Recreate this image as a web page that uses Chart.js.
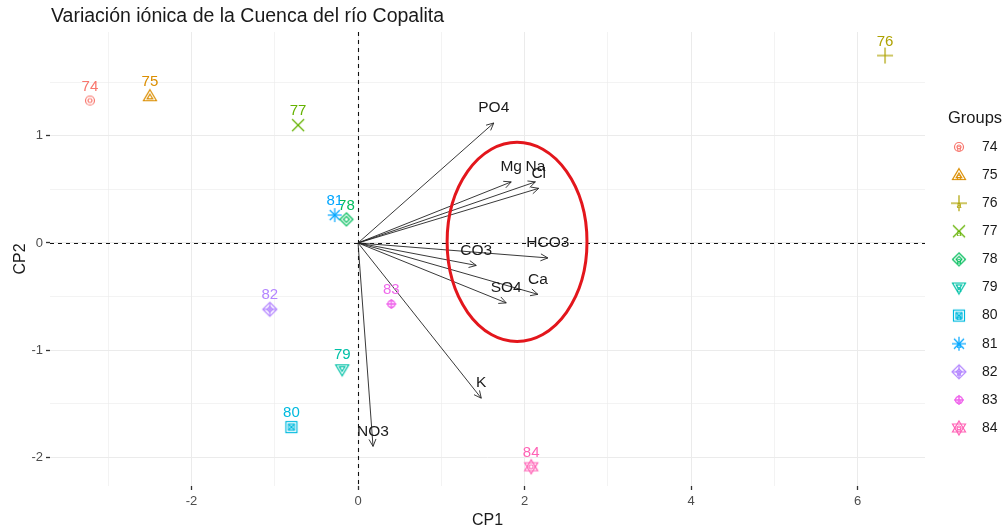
<!DOCTYPE html>
<html>
<head>
<meta charset="utf-8">
<script src="https://cdn.jsdelivr.net/npm/chart.js@4"></script>
<style>
  html, body { margin: 0; padding: 0; background: #fff; }
  #wrap { width: 1003px; height: 531px; }
</style>
</head>
<body>
<div id="wrap"><canvas id="biplot" width="1003" height="531"></canvas></div>
<script>
// sample scores (CP1, CP2) per group
var groups = ['74', '75', '76', '77', '78', '79', '80', '81', '82', '83', '84'];
var cp1 = [-3.22, -2.50, 6.33, -0.72, -0.14, -0.19, -0.80, -0.28, -1.06, 0.40, 2.08];
var cp2 = [1.33, 1.37, 1.75, 1.10, 0.22, -1.18, -1.72, 0.26, -0.62, -0.57, -2.09];
var groupColors = ['#F8766D', '#DB8E00', '#AEA200', '#64B200', '#00BD5C', '#00C1A7',
                   '#00BADE', '#00A6FF', '#B385FF', '#EF67EB', '#FF63B6'];
var groupShapes = ['circle', 'triangle', 'plus', 'cross', 'diamond', 'triDown',
                   'squareX', 'asterisk', 'diamondPlus', 'circlePlus', 'star'];

// variable loadings (arrows)
var variables = ['PO4', 'Mg', 'Na', 'Cl', 'HCO3', 'CO3', 'Ca', 'SO4', 'K', 'NO3'];
var loadX = [1.63, 1.84, 2.13, 2.17, 2.28, 1.42, 2.16, 1.78, 1.48, 0.18];
var loadY = [1.12, 0.57, 0.57, 0.51, -0.14, -0.21, -0.48, -0.56, -1.45, -1.90];

// highlighted group of ions (red ellipse), in data units
var ellipseCenter = [1.91, 0.01];
var ellipseRadius = [0.84, 0.93];

// axes
var xRange = [-3.70, 6.81];
var yRange = [-2.27, 1.97];
var xGrid = [-3, -2, -1, 0, 1, 2, 3, 4, 5, 6];
var xLabels = [-2, 0, 2, 4, 6];
var yGrid = [-2, -1.5, -1, -0.5, 0, 0.5, 1, 1.5];
var yLabels = [-2, -1, 0, 1];

var FONT = '"Liberation Sans", Arial, sans-serif';
Chart.defaults.font.family = FONT;

function makeMarker(shape, color) {
    var c = document.createElement('canvas');
    c.width = 20; c.height = 20;
    var g = c.getContext('2d');
    g.strokeStyle = color;
    g.lineWidth = 1.2;
    g.translate(10, 10);
    function poly(pts) {
        g.beginPath();
        g.moveTo(pts[0][0], pts[0][1]);
        for (var i = 1; i < pts.length; i++) g.lineTo(pts[i][0], pts[i][1]);
        g.closePath();
        g.stroke();
    }
    function line(a, b, cc, d) {
        g.beginPath(); g.moveTo(a, b); g.lineTo(cc, d); g.stroke();
    }
    function circ(r) {
        g.beginPath(); g.arc(0, 0, r, 0, Math.PI * 2); g.stroke();
    }
    switch (shape) {
        case 'circle':
            circ(4.5); circ(2); break;
        case 'triangle':
            poly([[0, -6.5], [6.5, 4.5], [-6.5, 4.5]]);
            poly([[0, -2], [2.8, 2.6], [-2.8, 2.6]]); break;
        case 'plus':
            line(-8, 0, 8, 0); line(0, -8, 0, 8); break;
        case 'cross':
            line(-6, -6, 6, 6); line(-6, 6, 6, -6); break;
        case 'diamond':
            poly([[0, -6.5], [6.5, 0], [0, 6.5], [-6.5, 0]]);
            poly([[0, -3], [3, 0], [0, 3], [-3, 0]]); break;
        case 'triDown':
            poly([[0, 6.5], [6.5, -4.5], [-6.5, -4.5]]);
            poly([[0, 2], [2.8, -2.6], [-2.8, -2.6]]); break;
        case 'squareX':
            g.strokeRect(-5.5, -5.5, 11, 11);
            g.strokeRect(-3, -3, 6, 6);
            line(-3, -3, 3, 3); line(-3, 3, 3, -3); break;
        case 'asterisk':
            line(-7, 0, 7, 0); line(0, -7, 0, 7);
            line(-5, -5, 5, 5); line(-5, 5, 5, -5); break;
        case 'diamondPlus':
            poly([[0, -7], [7, 0], [0, 7], [-7, 0]]);
            line(-7, 0, 7, 0); line(0, -7, 0, 7);
            poly([[0, -3], [3, 0], [0, 3], [-3, 0]]); break;
        case 'circlePlus':
            g.lineWidth = 1.5;
            circ(3.5);
            line(-5, 0, 5, 0); line(0, -5, 0, 5); break;
        case 'star':
            poly([[0, -7], [6.5, 4], [-6.5, 4]]);
            poly([[0, 7], [6.5, -4], [-6.5, -4]]);
            circ(2); break;
    }
    return c;
}

var markers = groups.map(function (g, i) { return makeMarker(groupShapes[i], groupColors[i]); });

var datasets = groups.map(function (g, i) {
    return {
        label: g,
        data: [{ x: cp1[i], y: cp2[i] }],
        pointStyle: markers[i],
        pointRadius: 7,
        backgroundColor: groupColors[i],
        borderColor: groupColors[i]
    };
});

var biplotPlugin = {
    id: 'biplot',
    beforeDatasetsDraw: function (chart) {
        var ctx = chart.ctx, a = chart.chartArea;
        var xs = chart.scales.x, ys = chart.scales.y;
        var x0 = xs.getPixelForValue(0), y0 = ys.getPixelForValue(0);
        ctx.save();
        // dashed reference lines
        ctx.strokeStyle = '#111';
        ctx.lineWidth = 1.1;
        ctx.setLineDash([4, 4]);
        ctx.beginPath();
        ctx.moveTo(Math.round(x0) + 0.5, a.top); ctx.lineTo(Math.round(x0) + 0.5, a.bottom);
        ctx.moveTo(a.left, Math.round(y0) + 0.5); ctx.lineTo(a.right, Math.round(y0) + 0.5);
        ctx.stroke();
        ctx.setLineDash([]);
        // loading arrows
        ctx.strokeStyle = '#222';
        ctx.lineWidth = 0.9;
        for (var i = 0; i < variables.length; i++) {
            var px = xs.getPixelForValue(loadX[i]), py = ys.getPixelForValue(loadY[i]);
            var ang = Math.atan2(py - y0, px - x0);
            ctx.beginPath();
            ctx.moveTo(x0, y0); ctx.lineTo(px, py);
            ctx.moveTo(px - 8 * Math.cos(ang - 0.45), py - 8 * Math.sin(ang - 0.45));
            ctx.lineTo(px, py);
            ctx.lineTo(px - 8 * Math.cos(ang + 0.45), py - 8 * Math.sin(ang + 0.45));
            ctx.stroke();
        }
        ctx.restore();
    },
    afterDatasetsDraw: function (chart) {
        var ctx = chart.ctx;
        var xs = chart.scales.x, ys = chart.scales.y;
        ctx.save();
        ctx.textAlign = 'center';
        ctx.textBaseline = 'middle';
        // variable labels
        ctx.font = '15.5px ' + FONT;
        ctx.fillStyle = '#1a1a1a';
        for (var i = 0; i < variables.length; i++) {
            ctx.fillText(variables[i], xs.getPixelForValue(loadX[i]), ys.getPixelForValue(loadY[i]) - 15);
        }
        // group labels
        ctx.font = '15px ' + FONT;
        for (var j = 0; j < groups.length; j++) {
            var el = chart.getDatasetMeta(j).data[0];
            ctx.fillStyle = groupColors[j];
            ctx.fillText(groups[j], el.x, el.y - 14);
        }
        // red ellipse
        var cx = xs.getPixelForValue(ellipseCenter[0]), cy = ys.getPixelForValue(ellipseCenter[1]);
        var rx = Math.abs(xs.getPixelForValue(ellipseCenter[0] + ellipseRadius[0]) - cx);
        var ry = Math.abs(ys.getPixelForValue(ellipseCenter[1] + ellipseRadius[1]) - cy);
        ctx.strokeStyle = '#E3161C';
        ctx.lineWidth = 3;
        ctx.beginPath();
        ctx.ellipse(cx, cy, rx, ry, 0, 0, Math.PI * 2);
        ctx.stroke();
        ctx.restore();
    },
    afterDraw: function (chart) {
        var ctx = chart.ctx;
        ctx.save();
        // title
        ctx.fillStyle = '#1a1a1a';
        ctx.font = '19.5px ' + FONT;
        ctx.textAlign = 'left';
        ctx.textBaseline = 'middle';
        ctx.fillText('Variación iónica de la Cuenca del río Copalita', 51, 17);
        // legend
        ctx.font = '16.5px ' + FONT;
        ctx.fillText('Groups', 948, 118);
        for (var i = 0; i < groups.length; i++) {
            var ky = 147 + i * 28.1;
            ctx.drawImage(markers[i], 959 - 10, ky - 10);
            ctx.fillStyle = groupColors[i];
            ctx.font = '9px ' + FONT;
            ctx.textAlign = 'center';
            ctx.fillText('a', 959, ky + 2);
            ctx.fillStyle = '#1a1a1a';
            ctx.font = '14px ' + FONT;
            ctx.textAlign = 'left';
            ctx.fillText(groups[i], 982, ky);
        }
        ctx.restore();
    }
};

new Chart('biplot', {
    type: 'scatter',
    data: { datasets: datasets },
    options: {
        responsive: false,
        animation: false,
        layout: { padding: { left: 0, top: 32, right: 78, bottom: 0 } },
        plugins: { legend: { display: false }, tooltip: { enabled: false } },
        scales: {
            x: {
                min: xRange[0], max: xRange[1],
                afterBuildTicks: function (s) { s.ticks = xGrid.map(function (v) { return { value: v }; }); },
                afterFit: function (s) { s.height = 45; },
                border: { display: false },
                grid: {
                    color: '#EBEBEB',
                    lineWidth: function (c) { return xLabels.indexOf(c.tick.value) >= 0 ? 1 : 0.6; },
                    tickLength: 4,
                    tickWidth: 1.3,
                    tickColor: function (c) { return xLabels.indexOf(c.tick.value) >= 0 ? '#333' : 'rgba(0,0,0,0)'; }
                },
                ticks: {
                    autoSkip: false, maxRotation: 0, padding: 4,
                    color: '#4D4D4D', font: { size: 13 },
                    callback: function (v) { return xLabels.indexOf(v) >= 0 ? String(v) : ''; }
                },
                title: { display: true, text: 'CP1', color: '#1a1a1a', font: { size: 16 }, padding: { top: 0, bottom: 1 } }
            },
            y: {
                min: yRange[0], max: yRange[1],
                afterBuildTicks: function (s) { s.ticks = yGrid.map(function (v) { return { value: v }; }); },
                afterFit: function (s) { s.width = 50; },
                border: { display: false },
                grid: {
                    color: '#EBEBEB',
                    lineWidth: function (c) { return yLabels.indexOf(c.tick.value) >= 0 ? 1 : 0.6; },
                    tickLength: 4,
                    tickWidth: 1.3,
                    tickColor: function (c) { return yLabels.indexOf(c.tick.value) >= 0 ? '#333' : 'rgba(0,0,0,0)'; }
                },
                ticks: {
                    autoSkip: false, padding: 3,
                    color: '#4D4D4D', font: { size: 13 },
                    callback: function (v) { return yLabels.indexOf(v) >= 0 ? String(v) : ''; }
                },
                title: { display: true, text: 'CP2', color: '#1a1a1a', font: { size: 16 }, padding: { top: 11, bottom: 0 } }
            }
        }
    },
    plugins: [biplotPlugin]
});
</script>
</body>
</html>
